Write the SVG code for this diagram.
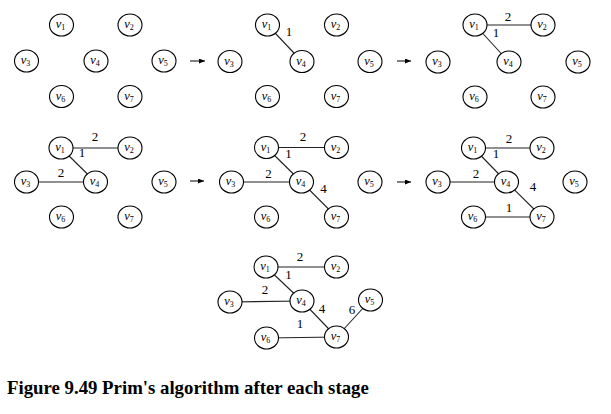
<svg xmlns="http://www.w3.org/2000/svg" width="611" height="414" viewBox="0 0 611 414">
<style>
.n ellipse{fill:#fff;stroke:#000;stroke-width:1.1}
.n text{font-family:"Liberation Serif",serif;font-style:italic;font-size:12.5px;text-anchor:middle;fill:#000}
.n tspan{font-style:normal;font-size:8px}
.e line{stroke:#222;stroke-width:1.1}
.w{font-family:"Liberation Serif",serif;font-size:13px;text-anchor:middle;fill:#000}
.a{stroke:#000;stroke-width:1}
.cap{font-family:"Liberation Serif",serif;font-weight:bold;font-size:18.8px;fill:#000}
</style>
<defs>
<marker id="ah" markerWidth="6" markerHeight="5" refX="6" refY="2.5" orient="auto" markerUnits="userSpaceOnUse">
<path d="M0,0 L6,2.5 L0,5 z" fill="#000"/>
</marker>
</defs>
<rect width="611" height="414" fill="#fff"/>
<g id="connectors" class="e">
<line x1="267.5" y1="25" x2="302" y2="61.5"/>
<line x1="475" y1="25" x2="543" y2="25"/>
<line x1="475" y1="25" x2="509" y2="62"/>
<line x1="61" y1="148" x2="130" y2="148"/>
<line x1="61" y1="148" x2="95.5" y2="182"/>
<line x1="26.5" y1="182" x2="95.5" y2="182"/>
<line x1="266.5" y1="147.5" x2="336.5" y2="147.5"/>
<line x1="266.5" y1="147.5" x2="301.5" y2="182"/>
<line x1="231.5" y1="182" x2="301.5" y2="182"/>
<line x1="301.5" y1="182" x2="336.5" y2="217"/>
<line x1="473.5" y1="148" x2="542" y2="148"/>
<line x1="473.5" y1="148" x2="506.5" y2="182"/>
<line x1="438" y1="182" x2="506.5" y2="182"/>
<line x1="506.5" y1="182" x2="542" y2="217"/>
<line x1="473.5" y1="217" x2="542" y2="217"/>
<line x1="266" y1="267" x2="336.5" y2="267"/>
<line x1="266" y1="267" x2="302" y2="301"/>
<line x1="230" y1="302" x2="302" y2="301"/>
<line x1="302" y1="301" x2="336.5" y2="337"/>
<line x1="266.5" y1="338" x2="336.5" y2="337"/>
<line x1="336.5" y1="337" x2="370.5" y2="300"/>
</g>
<g id="weights">
<text class="w" x="289" y="36">1</text>
<text class="w" x="508" y="21">2</text>
<text class="w" x="496" y="37">1</text>
<text class="w" x="95" y="141">2</text>
<text class="w" x="82" y="157">1</text>
<text class="w" x="61" y="177">2</text>
<text class="w" x="303" y="141">2</text>
<text class="w" x="288.5" y="157.5">1</text>
<text class="w" x="268.5" y="177.5">2</text>
<text class="w" x="323.5" y="192.5">4</text>
<text class="w" x="509" y="142.5">2</text>
<text class="w" x="496" y="157.5">1</text>
<text class="w" x="476" y="177.5">2</text>
<text class="w" x="533" y="191">4</text>
<text class="w" x="509" y="211.5">1</text>
<text class="w" x="300" y="261">2</text>
<text class="w" x="288.5" y="279">1</text>
<text class="w" x="265" y="294">2</text>
<text class="w" x="322" y="313">4</text>
<text class="w" x="352" y="314">6</text>
<text class="w" x="300" y="328">1</text>
</g>
<g id="arrows">
<line class="a" x1="190" y1="61" x2="205" y2="61" marker-end="url(#ah)"/>
<line class="a" x1="397" y1="61" x2="411" y2="61" marker-end="url(#ah)"/>
<line class="a" x1="190" y1="181" x2="204" y2="181" marker-end="url(#ah)"/>
<line class="a" x1="397" y1="182" x2="411" y2="182" marker-end="url(#ah)"/>
</g>
<!-- Panel 1 -->
<g id="p1-v1" class="n"><ellipse cx="61.5" cy="25" rx="12" ry="11"/><text x="60.5" y="28">v<tspan dy="2">1</tspan></text></g>
<g id="p1-v2" class="n"><ellipse cx="130" cy="25" rx="12" ry="11"/><text x="129" y="28">v<tspan dy="2">2</tspan></text></g>
<g id="p1-v3" class="n"><ellipse cx="26.5" cy="61" rx="12" ry="11"/><text x="25.5" y="64">v<tspan dy="2">3</tspan></text></g>
<g id="p1-v4" class="n"><ellipse cx="96" cy="61" rx="12" ry="11"/><text x="95" y="64">v<tspan dy="2">4</tspan></text></g>
<g id="p1-v5" class="n"><ellipse cx="164" cy="61" rx="12" ry="11"/><text x="163" y="64">v<tspan dy="2">5</tspan></text></g>
<g id="p1-v6" class="n"><ellipse cx="61.5" cy="96.5" rx="12" ry="11"/><text x="60.5" y="99.5">v<tspan dy="2">6</tspan></text></g>
<g id="p1-v7" class="n"><ellipse cx="130" cy="96.5" rx="12" ry="11"/><text x="129" y="99.5">v<tspan dy="2">7</tspan></text></g>
<!-- Panel 2 -->
<g id="p2-v1" class="n"><ellipse cx="267.5" cy="25" rx="12" ry="11"/><text x="266.5" y="28">v<tspan dy="2">1</tspan></text></g>
<g id="p2-v2" class="n"><ellipse cx="336.5" cy="25" rx="12" ry="11"/><text x="335.5" y="28">v<tspan dy="2">2</tspan></text></g>
<g id="p2-v3" class="n"><ellipse cx="230" cy="61.5" rx="12" ry="11"/><text x="229" y="64.5">v<tspan dy="2">3</tspan></text></g>
<g id="p2-v4" class="n"><ellipse cx="302" cy="61.5" rx="12" ry="11"/><text x="301" y="64.5">v<tspan dy="2">4</tspan></text></g>
<g id="p2-v5" class="n"><ellipse cx="370" cy="61.5" rx="12" ry="11"/><text x="369" y="64.5">v<tspan dy="2">5</tspan></text></g>
<g id="p2-v6" class="n"><ellipse cx="267.5" cy="96.5" rx="12" ry="11"/><text x="266.5" y="99.5">v<tspan dy="2">6</tspan></text></g>
<g id="p2-v7" class="n"><ellipse cx="336.5" cy="96.5" rx="12" ry="11"/><text x="335.5" y="99.5">v<tspan dy="2">7</tspan></text></g>
<!-- Panel 3 -->
<g id="p3-v1" class="n"><ellipse cx="475" cy="25" rx="12" ry="11"/><text x="474" y="28">v<tspan dy="2">1</tspan></text></g>
<g id="p3-v2" class="n"><ellipse cx="543" cy="25" rx="12" ry="11"/><text x="542" y="28">v<tspan dy="2">2</tspan></text></g>
<g id="p3-v3" class="n"><ellipse cx="438" cy="62" rx="12" ry="11"/><text x="437" y="65">v<tspan dy="2">3</tspan></text></g>
<g id="p3-v4" class="n"><ellipse cx="509" cy="62" rx="12" ry="11"/><text x="508" y="65">v<tspan dy="2">4</tspan></text></g>
<g id="p3-v5" class="n"><ellipse cx="578" cy="62" rx="12" ry="11"/><text x="577" y="65">v<tspan dy="2">5</tspan></text></g>
<g id="p3-v6" class="n"><ellipse cx="475" cy="97" rx="12" ry="11"/><text x="474" y="100">v<tspan dy="2">6</tspan></text></g>
<g id="p3-v7" class="n"><ellipse cx="543" cy="97" rx="12" ry="11"/><text x="542" y="100">v<tspan dy="2">7</tspan></text></g>
<!-- Panel 4 -->
<g id="p4-v1" class="n"><ellipse cx="61" cy="148" rx="12" ry="11"/><text x="60" y="151">v<tspan dy="2">1</tspan></text></g>
<g id="p4-v2" class="n"><ellipse cx="130" cy="148" rx="12" ry="11"/><text x="129" y="151">v<tspan dy="2">2</tspan></text></g>
<g id="p4-v3" class="n"><ellipse cx="26.5" cy="182" rx="12" ry="11"/><text x="25.5" y="185">v<tspan dy="2">3</tspan></text></g>
<g id="p4-v4" class="n"><ellipse cx="95.5" cy="182" rx="12" ry="11"/><text x="94.5" y="185">v<tspan dy="2">4</tspan></text></g>
<g id="p4-v5" class="n"><ellipse cx="164" cy="182" rx="12" ry="11"/><text x="163" y="185">v<tspan dy="2">5</tspan></text></g>
<g id="p4-v6" class="n"><ellipse cx="61.5" cy="217" rx="12" ry="11"/><text x="60.5" y="220">v<tspan dy="2">6</tspan></text></g>
<g id="p4-v7" class="n"><ellipse cx="130" cy="217" rx="12" ry="11"/><text x="129" y="220">v<tspan dy="2">7</tspan></text></g>
<!-- Panel 5 -->
<g id="p5-v1" class="n"><ellipse cx="266.5" cy="147.5" rx="12" ry="11"/><text x="265.5" y="150.5">v<tspan dy="2">1</tspan></text></g>
<g id="p5-v2" class="n"><ellipse cx="336.5" cy="147.5" rx="12" ry="11"/><text x="335.5" y="150.5">v<tspan dy="2">2</tspan></text></g>
<g id="p5-v3" class="n"><ellipse cx="231.5" cy="182" rx="12" ry="11"/><text x="230.5" y="185">v<tspan dy="2">3</tspan></text></g>
<g id="p5-v4" class="n"><ellipse cx="301.5" cy="182" rx="12" ry="11"/><text x="300.5" y="185">v<tspan dy="2">4</tspan></text></g>
<g id="p5-v5" class="n"><ellipse cx="370" cy="182" rx="12" ry="11"/><text x="369" y="185">v<tspan dy="2">5</tspan></text></g>
<g id="p5-v6" class="n"><ellipse cx="266.5" cy="217" rx="12" ry="11"/><text x="265.5" y="220">v<tspan dy="2">6</tspan></text></g>
<g id="p5-v7" class="n"><ellipse cx="336.5" cy="217" rx="12" ry="11"/><text x="335.5" y="220">v<tspan dy="2">7</tspan></text></g>
<!-- Panel 6 -->
<g id="p6-v1" class="n"><ellipse cx="473.5" cy="148" rx="12" ry="11"/><text x="472.5" y="151">v<tspan dy="2">1</tspan></text></g>
<g id="p6-v2" class="n"><ellipse cx="542" cy="148" rx="12" ry="11"/><text x="541" y="151">v<tspan dy="2">2</tspan></text></g>
<g id="p6-v3" class="n"><ellipse cx="438" cy="182" rx="12" ry="11"/><text x="437" y="185">v<tspan dy="2">3</tspan></text></g>
<g id="p6-v4" class="n"><ellipse cx="506.5" cy="182" rx="12" ry="11"/><text x="505.5" y="185">v<tspan dy="2">4</tspan></text></g>
<g id="p6-v5" class="n"><ellipse cx="575" cy="182" rx="12" ry="11"/><text x="574" y="185">v<tspan dy="2">5</tspan></text></g>
<g id="p6-v6" class="n"><ellipse cx="473.5" cy="217" rx="12" ry="11"/><text x="472.5" y="220">v<tspan dy="2">6</tspan></text></g>
<g id="p6-v7" class="n"><ellipse cx="542" cy="217" rx="12" ry="11"/><text x="541" y="220">v<tspan dy="2">7</tspan></text></g>
<!-- Panel 7 -->
<g id="p7-v1" class="n"><ellipse cx="266" cy="267" rx="12" ry="11"/><text x="265" y="270">v<tspan dy="2">1</tspan></text></g>
<g id="p7-v2" class="n"><ellipse cx="336.5" cy="267" rx="12" ry="11"/><text x="335.5" y="270">v<tspan dy="2">2</tspan></text></g>
<g id="p7-v3" class="n"><ellipse cx="230" cy="302" rx="12" ry="11"/><text x="229" y="305">v<tspan dy="2">3</tspan></text></g>
<g id="p7-v4" class="n"><ellipse cx="302" cy="301" rx="12" ry="11"/><text x="301" y="304">v<tspan dy="2">4</tspan></text></g>
<g id="p7-v5" class="n"><ellipse cx="370.5" cy="300" rx="12" ry="11"/><text x="369.5" y="303">v<tspan dy="2">5</tspan></text></g>
<g id="p7-v6" class="n"><ellipse cx="266.5" cy="338" rx="12" ry="11"/><text x="265.5" y="341">v<tspan dy="2">6</tspan></text></g>
<g id="p7-v7" class="n"><ellipse cx="336.5" cy="337" rx="12" ry="11"/><text x="335.5" y="340">v<tspan dy="2">7</tspan></text></g>
<text class="cap" x="7" y="394">Figure 9.49 Prim's algorithm after each stage</text>
</svg>
